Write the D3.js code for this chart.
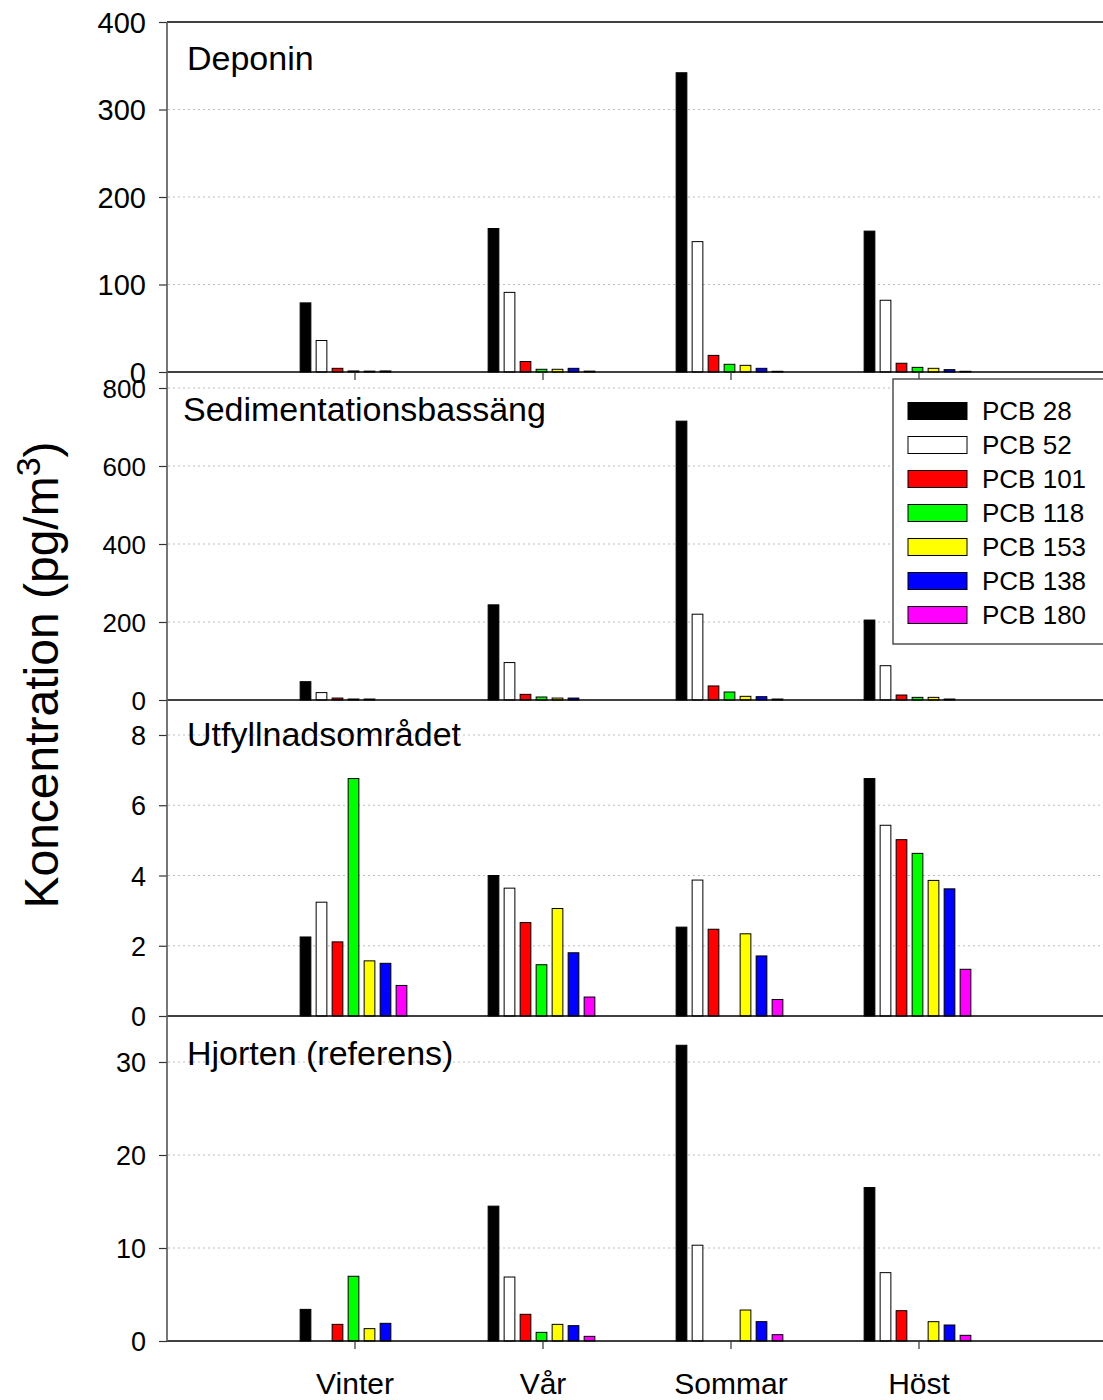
<!DOCTYPE html>
<html>
<head>
<meta charset="utf-8">
<script src="https://cdn.jsdelivr.net/npm/d3@7/dist/d3.min.js"></script>
<style>
  html, body { margin: 0; padding: 0; background: #fff; }
  svg { display: block; font-family: "Liberation Sans", Arial, sans-serif; }
</style>
</head>
<body>
<svg id="chart" width="1103" height="1400"></svg>
<script>
// Seasons on the x axis
const seasons = ["Vinter", "Vår", "Sommar", "Höst"];

// PCB congeners and their fill colours
const congeners = ["PCB 28", "PCB 52", "PCB 101", "PCB 118", "PCB 153", "PCB 138", "PCB 180"];
const congenerColors = ["#000000", "#ffffff", "#ff0000", "#00ff00", "#ffff00", "#0000ff", "#ff00ff"];

// Sampling sites (one panel each)
const sites = ["Deponin", "Sedimentationsbassäng", "Utfyllnadsområdet", "Hjorten (referens)"];

// Concentrations (pg/m3), rows = congener, columns = season; null = not detected
const deponin = [
  [79, 164, 342, 161],
  [36, 91, 149, 82],
  [4.2, 12, 19, 10],
  [1.2, 3.1, 8.8, 5.3],
  [1.0, 3.1, 7.6, 4.2],
  [1.2, 4.2, 4.2, 2.7],
  [null, 1.0, 0.8, 0.8]
];
const sedimentation = [
  [47, 244, 715, 205],
  [19, 96, 220, 88],
  [5, 14.5, 36, 12.8],
  [2.5, 7.7, 20.5, 6.8],
  [2.5, 5, 9.4, 6.8],
  [null, 5, 8.5, 2.5],
  [null, null, 2.5, null]
];
const utfyllnad = [
  [2.25, 4.0, 2.53, 6.76],
  [3.24, 3.64, 3.87, 5.43],
  [2.11, 2.66, 2.47, 5.02],
  [6.76, 1.46, null, 4.63],
  [1.57, 3.06, 2.34, 3.86],
  [1.5, 1.8, 1.71, 3.62],
  [0.87, 0.54, 0.47, 1.33]
];
const hjorten = [
  [3.4, 14.5, 31.8, 16.5],
  [null, 6.88, 10.3, 7.35],
  [1.79, 2.87, null, 3.26],
  [6.96, 0.93, null, null],
  [1.33, 1.79, 3.33, 2.08],
  [1.9, 1.65, 2.08, 1.72],
  [null, 0.5, 0.68, 0.61]
];
const siteData = [deponin, sedimentation, utfyllnad, hjorten];

// Y axis tick values per panel
const yTicks = [
  [0, 100, 200, 300, 400],
  [0, 200, 400, 600, 800],
  [0, 2, 4, 6, 8],
  [0, 10, 20, 30]
];

// ---- layout ----
const axisX = 167;
const panels = [
  { y0: 372,  yTop: 22,  max: 400, tickFont: 29, titleY: 70,   xTicks: true },
  { y0: 700,  yTop: 388, max: 800, tickFont: 26, titleY: 421,  xTicks: false },
  { y0: 1016, yTop: 735, max: 8,   tickFont: 27, titleY: 746,  xTicks: false },
  { y0: 1341, yTop: 1062, max: 30, tickFont: 27, titleY: 1065, xTicks: true }
];

const svg = d3.select("#chart");

// Season positions: categories sit at 1..4 on a 0..5 linear axis
const x = d3.scaleLinear().domain([0, 5]).range([axisX, 1107]);
const xSub = d3.scaleBand().domain(congeners).range([-57.5, 54.5])
  .paddingInner(0.33).paddingOuter(0.165);
const color = d3.scaleOrdinal().domain(congeners).range(congenerColors);

panels.forEach((p, pi) => {
  const y = d3.scaleLinear().domain([0, p.max]).range([p.y0, p.yTop]);
  const g = svg.append("g");

  // dotted grid
  g.selectAll("line.grid")
    .data(yTicks[pi].filter(v => v > 0 && !(pi === 0 && v === 400)))
    .enter().append("line")
    .attr("x1", axisX + 1).attr("x2", 1103)
    .attr("y1", d => y(d)).attr("y2", d => y(d))
    .attr("stroke", "#bdbdbd").attr("stroke-width", 1)
    .attr("stroke-dasharray", "2,3");

  // bars
  const rows = [];
  siteData[pi].forEach((vals, ci) => {
    vals.forEach((v, si) => {
      if (v !== null) rows.push({ c: congeners[ci], s: si, v });
    });
  });
  g.selectAll("rect.bar").data(rows).enter().append("rect")
    .attr("x", d => x(d.s + 1) + xSub(d.c))
    .attr("width", xSub.bandwidth())
    .attr("y", d => y(d.v))
    .attr("height", d => y(0) - y(d.v))
    .attr("fill", d => color(d.c))
    .attr("stroke", "#000").attr("stroke-width", 1);

  // baseline
  g.append("line").attr("x1", axisX).attr("x2", 1103)
    .attr("y1", p.y0).attr("y2", p.y0)
    .attr("stroke", "#000").attr("stroke-width", 1.6);

  // x ticks pointing down (top and bottom panels)
  if (p.xTicks) {
    g.selectAll("line.xt").data(seasons).enter().append("line")
      .attr("x1", (d, i) => x(i + 1)).attr("x2", (d, i) => x(i + 1))
      .attr("y1", p.y0).attr("y2", p.y0 + 8)
      .attr("stroke", "#333").attr("stroke-width", 1.2);
  }

  // y axis
  const ax = d3.axisLeft(y).tickValues(yTicks[pi]).tickSize(8).tickPadding(13)
    .tickFormat(d3.format("d"));
  const axG = g.append("g").attr("transform", `translate(${axisX},0)`).call(ax);
  axG.select(".domain").remove();
  axG.selectAll(".tick line").attr("stroke", "#333").attr("stroke-width", 1.2);
  axG.selectAll(".tick text")
    .attr("font-size", p.tickFont)
    .attr("font-family", "'Liberation Sans', Arial, sans-serif")
    .attr("fill", "#000")
    .attr("dy", "0.36em");

  // panel title
  g.append("text").attr("x", pi === 1 ? 183 : 187).attr("y", p.titleY)
    .attr("font-size", 34).attr("fill", "#000")
    .text(sites[pi]);
});

// top frame of first panel
svg.append("line").attr("x1", axisX).attr("x2", 1103)
  .attr("y1", panels[0].yTop).attr("y2", panels[0].yTop)
  .attr("stroke", "#000").attr("stroke-width", 1.4);

// continuous left axis
svg.append("line").attr("x1", axisX).attr("x2", axisX)
  .attr("y1", panels[0].yTop).attr("y2", panels[3].y0)
  .attr("stroke", "#555").attr("stroke-width", 1.6);

// season labels
svg.selectAll("text.season").data(seasons).enter().append("text")
  .attr("x", (d, i) => x(i + 1)).attr("y", 1394)
  .attr("text-anchor", "middle").attr("font-size", 30).attr("fill", "#000")
  .text(d => d);

// y title
const yTitle = svg.append("text")
  .attr("transform", "translate(58,675) rotate(-90)")
  .attr("text-anchor", "middle").attr("font-size", 48).attr("fill", "#000");
yTitle.append("tspan").text("Koncentration (pg/m");
yTitle.append("tspan").attr("font-size", 34).attr("dy", -18).text("3");
yTitle.append("tspan").attr("dy", 18).text(")");

// legend
const leg = svg.append("g");
leg.append("rect").attr("x", 893).attr("y", 379).attr("width", 220).attr("height", 265)
  .attr("fill", "#fff").attr("stroke", "#444").attr("stroke-width", 1.4);
const legY = d3.scaleBand().domain(congeners).range([394, 632]);
congeners.forEach(c => {
  leg.append("rect").attr("x", 908).attr("y", legY(c) + legY.bandwidth() / 2 - 8.5)
    .attr("width", 59).attr("height", 17)
    .attr("fill", color(c)).attr("stroke", "#000").attr("stroke-width", 1);
  leg.append("text").attr("x", 982).attr("y", legY(c) + legY.bandwidth() / 2 + 9)
    .attr("font-size", 26).attr("fill", "#000").text(c);
});
</script>
</body>
</html>
